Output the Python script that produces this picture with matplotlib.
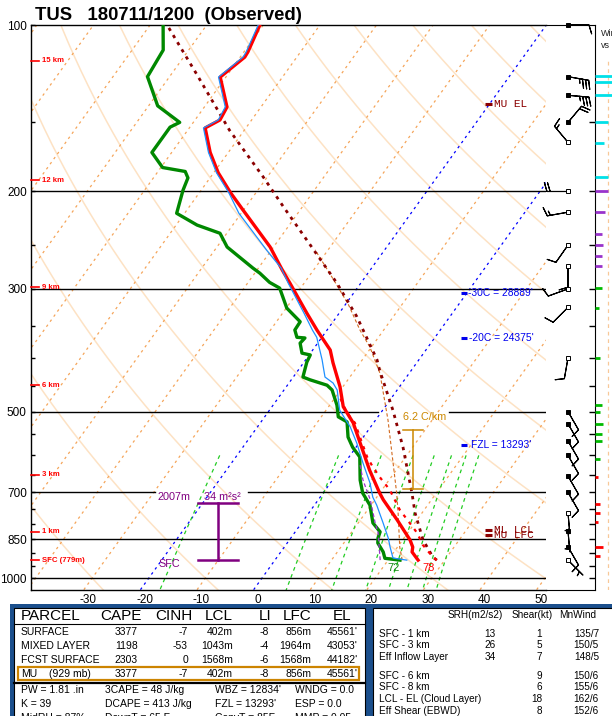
import numpy as np
import matplotlib
matplotlib.use('Agg')
import matplotlib.pyplot as plt
from matplotlib.patches import Rectangle
from matplotlib.ticker import FixedLocator, NullFormatter, FuncFormatter

plt.rcParams['font.family'] = ['Liberation Sans', 'DejaVu Sans']
plt.rcParams['axes.unicode_minus'] = False

# ---------------- data ----------------
title = "TUS   180711/1200  (Observed)"
p_lab = [100, 200, 300, 500, 700, 850, 1000]
p_minor = [150, 250, 350, 400, 450, 550, 600, 650, 750, 800, 900, 950]
t_ticks = [-30, -20, -10, 0, 10, 20, 30, 40, 50]

# temperature (C)
p_temp = [928, 897, 879, 853, 785, 722, 702, 638, 570, 524, 490, 451, 408, 387, 356, 332,
          293, 277, 252, 216, 201, 185, 170, 153.5, 148.5, 140.7, 124.2, 114.3, 111.9, 100]
t_temp = [25.3, 23.2, 22.7, 21.3, 16.5, 11.5, 10.0, 5.3, 0.2, -3.6, -7.4, -10.5, -14.8, -16.9, -21.8, -25.7,
          -32.5, -35.6, -40.6, -50.1, -54.5, -59.2, -63.2, -67.2, -65.6, -66.0, -71.0, -69.2, -69.3, -70.6]
# dewpoint (C)
p_dwpt = [928, 921, 897, 864, 846, 825, 795, 738, 702, 665, 604, 580, 556, 522, 511, 487, 457, 448,
          438, 433, 407, 395, 392, 376, 368, 367, 356, 344, 325, 299, 292, 281, 275, 252, 238, 230,
          219, 199, 189, 184, 181, 170, 153, 150, 140, 124, 111, 100]
t_dwpt = [22.1, 19.2, 18.1, 16.0, 15.4, 15.0, 12.6, 9.8, 7.0, 4.9, 1.9, -0.6, -2.7, -4.8, -7.0, -8.7, -11.5, -13.0,
          -16.7, -18.3, -19.5, -19.8, -21.5, -23.1, -22.9, -24.4, -25.7, -25.8, -29.9, -33.7, -36.2, -39.1, -41.0, -48.2, -51.2, -56.3,
          -61.4, -63.2, -63.9, -65.2, -69.7, -73.5, -73.5, -72.4, -78.4, -83.9, -84.5, -87.7]
# wet-bulb (C)
p_wb = [928, 920, 879, 846, 795, 738, 714, 673, 619, 570, 533, 497, 457, 444, 433, 415, 403, 367,
        356, 332, 293, 275, 255, 219, 201, 185, 170, 153.5, 148.5, 140.7, 124.2, 114.3, 111.9, 100]
t_wb = [23.3, 20.6, 18.7, 17.2, 14.4, 11.0, 9.3, 7.0, 3.2, -0.4, -3.6, -7.6, -10.6, -12.2, -14.4, -16.0, -17.1, -20.9,
        -22.6, -26.2, -32.8, -36.0, -40.9, -50.4, -54.8, -59.5, -63.5, -67.5, -65.9, -66.3, -71.3, -69.5, -69.6, -70.9]
# virtual temperature (C)
p_tv = [928, 916, 871, 829, 795, 753, 693, 657, 630, 604, 556, 524, 503, 471]
t_tv = [28.6, 27.5, 24.2, 21.7, 19.1, 15.7, 11.4, 8.0, 5.5, 3.2, -0.6, -3.3, -5.95, -9.2]
# MU / SB parcel virtual temperature trace (C)
p_par = [928, 916, 853, 763, 702, 580, 497, 421, 403, 337, 293, 251, 213, 188, 155, 123, 100]
t_par = [28.6, 27.5, 23.6, 18.8, 15.7, 8.3, 1.8, -5.6, -7.4, -16.4, -24.2, -33.5, -43.4, -50.8, -62.6, -75.4, -87.0]
# mixed-layer parcel trace (C)
p_ml = [928, 879, 763, 702, 518, 426, 382, 356, 320, 290, 255]
t_ml = [22.5, 20.4, 15.8, 13.0, 2.2, -5.2, -10.3, -14.2, -19.5, -25.0, -32.3]
# downdraft parcel (C)
p_dd = [625, 665, 722, 795, 829, 928]
t_dd = [3.0, 5.4, 9.2, 13.0, 14.8, 18.6]

# mixing ratio lines (g/kg)
w_lines = [1, 5.5, 9.5, 14, 18, 22, 26, 30]

# height labels (AGL)
km_labels = ['SFC (779m)', '1 km', '3 km', '6 km', '9 km', '12 km', '15 km']
km_p = [928, 825, 651, 448, 298, 191, 116]

# wind barbs
p_barb = [100, 124, 134, 150, 163, 200, 218, 250, 273, 300, 324, 400, 500, 526, 565, 600, 654, 700, 762, 822, 878, 928]
d_barb = [90, 100, 95, 40, 320, 270, 260, 215, 180, 250, 225, 190, 150, 150, 150, 150, 150, 150, 175, 175, 150, 135]
s_barb = [10, 35, 35, 20, 15, 20, 15, 10, 10, 10, 10, 10, 10, 10, 10, 10, 10, 10, 5, 5, 10, 5]
filled_barb = [1, 1, 1, 1, 0, 0, 0, 0, 0, 0, 0, 0, 1, 1, 1, 1, 1, 1, 0, 1, 1, 0]

# wind speed vs height strip
p_ws = [123.7, 127, 133.8, 150, 163.4, 188.3, 199.6, 217.8, 238.3, 249.9, 261.3, 272.7,
        298.9, 324.2, 399.2, 486.5, 500, 525.7, 548, 565.1, 609, 656.5, 734.6, 762.6, 791.8, 878.7, 912.2]
s_ws = [35, 35, 35, 20, 14, 20, 20, 15, 11, 12, 10, 11, 10, 5.5, 8, 11, 8, 12, 11, 11, 8, 4, 7, 7, 4.5, 12, 8]

# tables
parcel_names = ['SURFACE', 'MIXED LAYER', 'FCST SURFACE', 'MU']
mu_note = '(929 mb)'
cape = ['3377', '1198', '2303', '3377']
cinh = ['-7', '-53', '0', '-7']
lcl = ['402m', '1043m', '1568m', '402m']
li = ['-8', '-4', '-6', '-8']
lfc = ['856m', '1964m', '1568m', '856m']
el = ["45561'", "43053'", "44182'", "45561'"]
par_header = ['CAPE', 'CINH', 'LCL', 'LI', 'LFC', 'EL']
index_rows = [['PW = 1.81 .in', '3CAPE = 48 J/kg', "WBZ = 12834'", 'WNDG = 0.0'],
              ['K = 39', 'DCAPE = 413 J/kg', "FZL = 13293'", 'ESP = 0.0'],
              ['MidRH = 87%', 'DownT = 65 F', 'ConvT = 85F', 'MMP = 0.05']]
kin_names = ['SFC - 1 km', 'SFC - 3 km', 'Eff Inflow Layer', 'SFC - 6 km', 'SFC - 8 km',
             'LCL - EL (Cloud Layer)', 'Eff Shear (EBWD)']
srh = ['13', '26', '34', '', '', '', '']
shear = ['1', '5', '7', '9', '6', '18', '8']
mnwind = ['135/7', '150/5', '148/5', '150/6', '155/6', '162/6', '152/6']
kin_header = ['SRH(m2/s2)', 'Shear(kt)', 'MnWind']

# ---------------- geometry ----------------
W, H = 612, 716
SKEW = 30.5
X0PX, XSCALE = 262.0, 5.66
AX_L, AX_R, AX_T, AX_B = 31, 546, 25, 590
BARB_R = 595
X_LEFT = (AX_L - X0PX) / XSCALE
X_RIGHT = (AX_R - X0PX) / XSCALE
PPX = 240.2
P_TOP = 100.0
P_BOT = 100.0 * np.exp((AX_B - AX_T) / PPX)


def sk(T, p):
    return np.asarray(T, float) + SKEW * np.log(1000.0 / np.asarray(p, float))


def px2X(px):
    return (px - X0PX) / XSCALE


def py2p(py):
    return 100.0 * np.exp((py - AX_T) / PPX)


fig = plt.figure(figsize=(W / 100, H / 100), dpi=100)


def ftext(x, y, s, **kw):
    kw.setdefault('va', 'center')
    fig.text(x / W, 1 - y / H, s, **kw)


ax = fig.add_axes([AX_L / W, 1 - AX_B / H, (AX_R - AX_L) / W, (AX_B - AX_T) / H])
ax.set_yscale('log')
ax.set_ylim(P_BOT, P_TOP)
ax.set_xlim(X_LEFT, X_RIGHT)
for s in ['left', 'top', 'bottom']:
    ax.spines[s].set_linewidth(1.0)
ax.spines['right'].set_visible(False)
ax.yaxis.set_major_locator(FixedLocator(p_lab))
ax.yaxis.set_minor_locator(FixedLocator(p_minor))
ax.yaxis.set_major_formatter(FuncFormatter(lambda v, pos: '%d' % round(v)))
ax.yaxis.set_minor_formatter(NullFormatter())
ax.tick_params(axis='y', which='both', direction='in', length=3, width=1, labelsize=8.5, pad=3)
ax.set_xticks([t - 0.7 for t in t_ticks])
ax.set_xticklabels([str(t) for t in t_ticks])
ax.tick_params(axis='x', length=0, labelsize=8.5, pad=3)

pp = np.geomspace(P_TOP * 0.95, P_BOT * 1.02, 200)
# dry adiabats
for thc in range(-50, 230, 20):
    T = (thc + 273.15) * (pp / 1000.0) ** 0.2857 - 273.15
    ax.plot(sk(T, pp), pp, color='#fde2c4', lw=1.1, zorder=1)
# isotherms
for tc in range(-170, 60, 10):
    col = '#0000ff' if tc in (0, -20) else '#f5a55a'
    ax.plot(sk([tc, tc], [P_BOT * 1.02, P_TOP * 0.95]), [P_BOT * 1.02, P_TOP * 0.95],
            color=col, lw=0.9, dashes=(2, 3), zorder=1.2)
# mixing ratio lines
pm = np.linspace(600, P_BOT * 1.02, 60)
for w in w_lines:
    e = w * pm / (622.0 + w)
    lne = np.log(e / 6.112)
    td = 243.5 * lne / (17.67 - lne)
    ax.plot(sk(td, pm), pm, color='#22cc22', lw=0.9, dashes=(3, 3), zorder=1.3)

# isobars
for p in [200, 300, 850, 1000]:
    ax.plot([X_LEFT, X_RIGHT], [p, p], color='k', lw=1.0, zorder=2)
ax.plot([X_LEFT, px2X(378)], [500, 500], color='k', lw=1.0, zorder=2)
ax.plot([px2X(449), X_RIGHT], [500, 500], color='k', lw=1.0, zorder=2)
ax.plot([X_LEFT, px2X(155)], [700, 700], color='k', lw=1.0, zorder=2)
ax.plot([px2X(248), X_RIGHT], [700, 700], color='k', lw=1.0, zorder=2)

# height labels
yt = ax.get_yaxis_transform()
for lab, p in zip(km_labels, km_p):
    ax.plot([0, 8 / 515], [p, p], transform=yt, color='#ff0000', lw=1.2, clip_on=False, zorder=6)
    ax.text(11 / 515, p, lab, transform=yt, color='#ff0000', fontsize=5.6, fontweight='bold',
            va='center', ha='left', zorder=6)

# profiles
ax.plot(sk(t_ml, p_ml), p_ml, color='#d2691e', lw=0.8, dashes=(3, 2), zorder=4)
ax.plot(sk(t_par, p_par), p_par, color='#8b0000', lw=2.0, dashes=(1.2, 1.8), zorder=4.2)
ax.plot(sk(t_dwpt, p_dwpt), p_dwpt, color='#008800', lw=2.4, zorder=5)
ax.plot(sk(t_dd, p_dd), p_dd, color='#9932cc', lw=0.9, dashes=(3, 2), zorder=5.1)
ax.plot(sk(t_tv, p_tv), p_tv, color='#ff0000', lw=1.6, dashes=(1.5, 2.5), zorder=5.2)
ax.plot(sk(t_temp, p_temp), p_temp, color='#ff0000', lw=2.4, zorder=5.3)
ax.plot(sk(t_wb, p_wb), p_wb, color='#1e90ff', lw=0.9, zorder=5.4)

# surface values
ax.text(px2X(394), py2p(568), '%d' % round(t_dwpt[0] * 9 / 5 + 32), color='#118811', fontsize=8,
        ha='center', va='center', zorder=6)
ax.text(px2X(429), py2p(568), '%d' % round(t_temp[0] * 9 / 5 + 32), color='#ff0000', fontsize=8,
        ha='center', va='center', zorder=6)

# effective inflow layer
purple = '#800080'
ax.plot([px2X(198), px2X(238)], [py2p(503)] * 2, color=purple, lw=1.8, zorder=6)
ax.plot([px2X(218)] * 2, [py2p(503), py2p(560)], color=purple, lw=1.8, zorder=6)
ax.plot([px2X(198), px2X(238)], [py2p(560)] * 2, color=purple, lw=1.8, zorder=6)
ax.text(px2X(158), py2p(497), '2007m', color=purple, fontsize=7.8, va='center', ha='left', zorder=6)
ax.text(px2X(204), py2p(497), '34 m²s²', color=purple, fontsize=7.8, va='center', ha='left', zorder=6)
ax.text(px2X(158), py2p(564), 'SFC', color=purple, fontsize=7.8, va='center', ha='left', zorder=6)

# lapse rate bracket
gold = '#cc8800'
ax.plot([px2X(413)] * 2, [py2p(430), py2p(489)], color=gold, lw=1.1, zorder=6)
ax.plot([px2X(403), px2X(423)], [py2p(430)] * 2, color=gold, lw=1.1, zorder=6)
ax.plot([px2X(403), px2X(423)], [py2p(489)] * 2, color=gold, lw=1.1, zorder=6)
ax.text(px2X(403), py2p(417), '6.2 C/km', color=gold, fontsize=7.8, va='center', ha='left', zorder=6)

# height markers
blue = '#0000ee'
for lab, p, xt in [("-30C = 28889'", 305, 468), ("-20C = 24375'", 368, 469), ("FZL = 13293'", 574, 471)]:
    ax.plot([px2X(461), px2X(467)], [p, p], color=blue, lw=2.2, zorder=6, solid_capstyle='butt')
    ax.text(px2X(xt), p, lab, color=blue, fontsize=7.4, va='center', ha='left', zorder=6)
dred = '#8b0000'
for lab, p in [('MU EL', 139), ('ML LCL', 818), ('MU LFC', 836)]:
    ax.plot([px2X(485), px2X(492)], [p, p], color=dred, lw=2.2, zorder=6, solid_capstyle='butt')
    ax.text(px2X(494), p, lab, color=dred, fontsize=8, family='Liberation Mono', va='center',
            ha='left', zorder=6, clip_on=False)

# barb axes
bx = fig.add_axes([AX_R / W, 1 - AX_B / H, (BARB_R - AX_R) / W, (AX_B - AX_T) / H])
bx.set_yscale('log')
bx.set_ylim(P_BOT, P_TOP)
bx.set_xlim(0, BARB_R - AX_R)
bx.patch.set_alpha(0)
bx.spines['left'].set_visible(False)
bx.set_xticks([])
bx.yaxis.tick_right()
bx.yaxis.set_major_locator(FixedLocator([p for p in range(150, 1001, 50)]))
bx.yaxis.set_minor_locator(FixedLocator([]))
bx.yaxis.set_major_formatter(NullFormatter())
bx.tick_params(axis='y', which='both', direction='in', length=4, width=1)
d = np.radians(d_barb)
u = -np.array(s_barb) * np.sin(d)
v = -np.array(s_barb) * np.cos(d)
xb = np.full(len(p_barb), 22.0)
bx.barbs(xb, p_barb, u, v, length=5.5, pivot='tip', lw=0.8, color='k', clip_on=False,
         sizes=dict(height=0.42, spacing=0.15, width=0.25, emptybarb=0.0))
for pb, f in zip(p_barb, filled_barb):
    bx.plot([22], [pb], 's', ms=2.6, mfc='k' if f else 'white', mec='k', mew=0.7, zorder=5, clip_on=False)

# wind speed strip
sx = fig.add_axes([BARB_R / W, 1 - AX_B / H, 60 / W, (AX_B - AX_T) / H])
sx.set_yscale('log')
sx.set_ylim(P_BOT, P_TOP)
sx.set_xlim(0, 60 / 0.65)
sx.axis('off')
sx.plot([20, 20], [P_BOT, P_TOP * 1.15], color='#f8c898', lw=0.9, dashes=(3, 3))
for p, s in zip(p_ws, s_ws):
    col = '#00e0e8' if p < 190 else ('#9933cc' if p < 290 else ('#00bb00' if p < 620 else '#ff0000'))
    sx.plot([0, s], [p, p], color=col, lw=2.0, solid_capstyle='butt')
ftext(601, 33, 'Wind', fontsize=6.5, color='#222222')
ftext(601, 46, 'vs', fontsize=6.5, color='#222222')

# title
ftext(35, 19.5, title, fontsize=13.3, fontweight='bold', ha='left', va='baseline')

# ---------------- tables ----------------
navy = '#1b4f8c'
fig.patches.append(Rectangle((10 / W, 0), (W - 10) / W, (H - 604) / H, transform=fig.transFigure,
                             facecolor=navy, edgecolor='none', zorder=0))
fig.patches.append(Rectangle((14 / W, -0.01), (365 - 14) / W, (H - 608) / H + 0.01, transform=fig.transFigure,
                             facecolor='white', edgecolor='black', lw=0.8, zorder=0.5))
fig.patches.append(Rectangle((373 / W, -0.01), (W + 5 - 373) / W, (H - 608) / H + 0.01, transform=fig.transFigure,
                             facecolor='white', edgecolor='black', lw=0.8, zorder=0.5))
fig.add_artist(plt.Line2D([14 / W, 365 / W], [1 - 624 / H] * 2, color='k', lw=0.8))
fig.add_artist(plt.Line2D([14 / W, 365 / W], [1 - 683 / H] * 2, color='k', lw=1.6))
fig.patches.append(Rectangle((18 / W, 1 - 680 / H), (359 - 18) / W, 13 / H, transform=fig.transFigure,
                             facecolor='none', edgecolor='#cc8400', lw=1.6, zorder=2))

ftext(21, 616, 'PARCEL', fontsize=11, ha='left')
for lab, xr in zip(par_header, [142, 192, 233, 271, 311, 351]):
    ftext(xr, 616, lab, fontsize=11, ha='right')
fs = 7.5
for i, name in enumerate(parcel_names):
    y = 632 + i * 13.9
    ftext(21, y, name, fontsize=fs, ha='left')
    if name == 'MU':
        ftext(49, y, mu_note, fontsize=fs, ha='left')
    for vals, xr in zip([cape, cinh, lcl, li, lfc, el], [138, 188, 233, 269, 311, 358]):
        ftext(xr, y, vals[i], fontsize=fs, ha='right')
for j, row in enumerate(index_rows):
    y = 690 + j * 14
    for s, x in zip(row, [21, 105, 215, 295]):
        ftext(x, y, s, fontsize=fs, ha='left')

fk = 7.2
ftext(503, 615, kin_header[0], fontsize=fk, ha='right')
ftext(553, 615, kin_header[1], fontsize=fk, ha='right')
ftext(596, 615, kin_header[2], fontsize=fk, ha='right')
kin_y = [634, 645.5, 657, 676, 687.5, 699, 710.5]
for name, a, b, c, y in zip(kin_names, srh, shear, mnwind, kin_y):
    ftext(379, y, name, fontsize=fk, ha='left')
    ftext(496, y, a, fontsize=fk, ha='right')
    ftext(542, y, b, fontsize=fk, ha='right')
    ftext(599, y, c, fontsize=fk, ha='right')

fig.savefig('out.png', dpi=100)
